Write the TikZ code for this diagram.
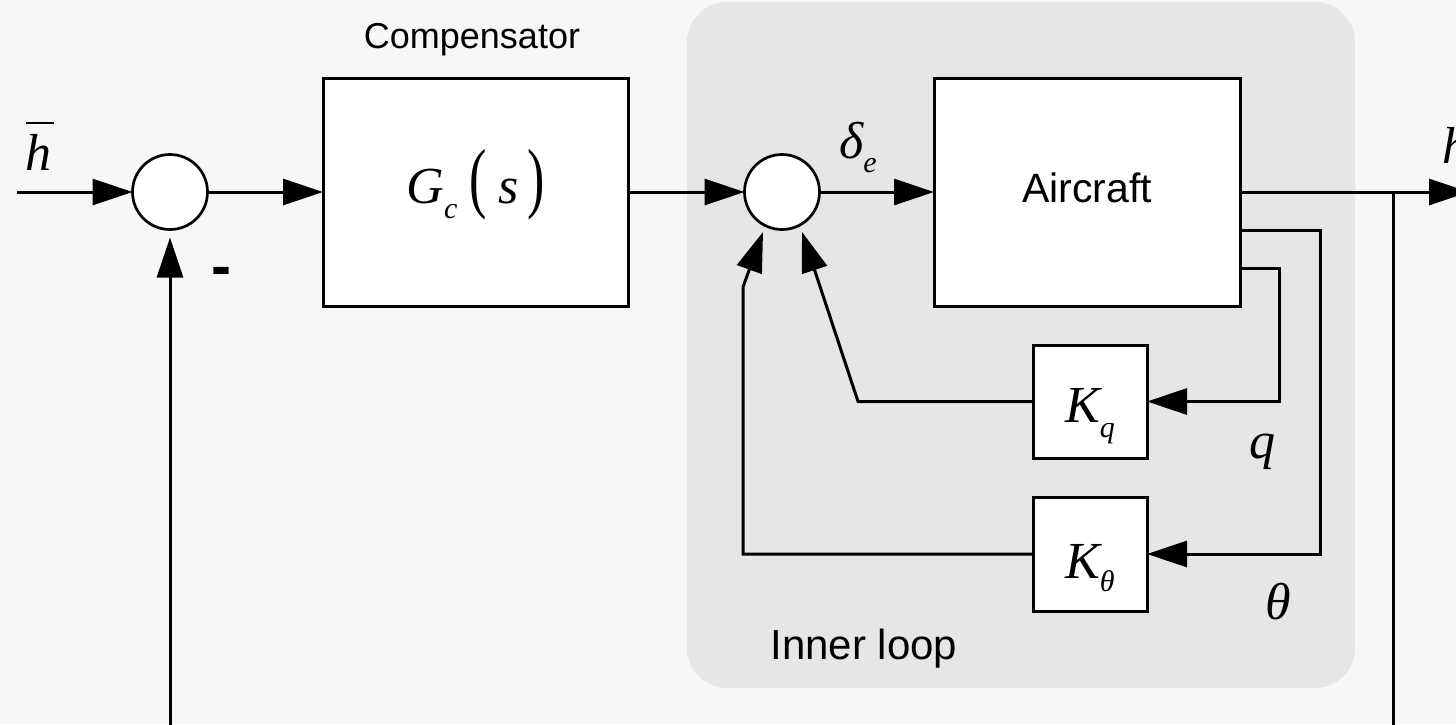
\documentclass[tikz,border=0pt]{standalone}
\usepackage{fontspec}
\usepackage{graphicx}
\setmainfont{Liberation Sans}
\newfontfamily\tms{Liberation Serif}
\usetikzlibrary{arrows.meta}
\definecolor{bgc}{HTML}{F7F7F7}
\definecolor{innerc}{HTML}{E6E6E6}
\newcommand\mi[1]{{\tms\itshape #1}}
\newcommand\lowsub[2]{\raisebox{-#1}{\fontsize{30}{30}\selectfont\tms\itshape #2}}
\begin{document}
\begin{tikzpicture}[x=1pt,y=-1pt,
  line width=3pt,
  blk/.style={draw, fill=white, line width=3pt, inner sep=0pt, outer sep=0pt},
  sumc/.style={draw, fill=white, circle, minimum size=75pt, inner sep=0pt, outer sep=0pt, line width=2.7pt},
  arr/.style={-{Triangle[length=40pt,width=26pt]}},
  lbl/.style={inner sep=0pt, anchor=base},
  sf/.style={font=\fontsize{#1}{#1}\selectfont},
  sf/.default=40,
  mth/.style={font=\tms\itshape\fontsize{52}{52}\selectfont}]
\useasboundingbox (0,0) rectangle (1456,724);
\fill[bgc] (0,0) rectangle (1456,724);
\fill[innerc, rounded corners=40pt] (687,2) rectangle (1355,688);

% blocks
\node[sumc] (s1) at (170,192) {};
\node[blk, mth, minimum width=305pt, minimum height=228pt, text height=22pt, text depth=0pt] (gc) at (475.5,192)
  {\mi{G}\lowsub{15pt}{c}\hspace{12pt}\scalebox{1}[1.5]{\upshape (}\hspace{12pt}\mi{s}\hspace{8pt}\scalebox{1}[1.5]{\upshape )}};
\node[sumc] (s2) at (782,192) {};
\node[blk, sf=41, minimum width=306pt, minimum height=228pt, text height=20pt, text depth=0pt] (ac) at (1087,192) {Aircraft};
\node[blk, mth, minimum width=114pt, minimum height=113pt, text height=41pt, text depth=0pt] (kq) at (1090,401.5) {\mi{K}\lowsub{15pt}{q}};
\node[blk, mth, minimum width=114pt, minimum height=114pt, text height=48pt, text depth=0pt] (kt) at (1090,554) {\mi{K}\lowsub{13pt}{θ}};

% free ends
\coordinate (in) at (17,192);
\coordinate (out) at (1469,192);
\coordinate (br) at (1393,192);
\coordinate (fbR) at (1393,740);
\coordinate (fbL) at (170,740);

% forward path
\draw[arr] (in) -- (s1.west);
\draw[arr] (s1.east) -- (gc.west);
\draw[arr] (gc.east) -- (s2.west);
\draw[arr] (s2.east) -- (ac.west);
\draw[arr] (ac.east) -- (out);

% outer feedback
\draw (br) -- (fbR);
\draw[arr] (fbL) -- ([yshift=-8pt]s1.south);

% inner loops
\draw[arr] ([yshift=-76pt]ac.east) -- ++(39,0) |- (kq.east);
\draw[arr] ([yshift=-38pt]ac.east) -- ++(80,0) |- (kt.east);
\draw[arr] (kq.west) -- (858,401.5) -- ([shift={(20pt,-40pt)}]s2.center);
\draw[arr] (kt.west) -| (743,287) -- ([shift={(-19pt,-40pt)}]s2.center);

% labels
\node[lbl, sf=36] (comp) at (472,48) {Compensator};
\node[lbl, sf=42, anchor=base west] (il) at (769,659) {Inner loop};
\node[lbl, mth] (hbar) at (38,170) {\rlap{\hspace{1pt}\rule[46pt]{28pt}{2.3pt}}h};
\node[lbl, mth, anchor=base west] (hout) at (1441,163) {h};
\node[lbl, mth] (de) at (858,158) {δ\lowsub{14pt}{e}};
\node[lbl, mth] (ql) at (1262,458) {q};
\node[lbl, mth] (tl) at (1278,619) {θ};
\node[lbl, font=\bfseries\fontsize{60}{60}\selectfont] (minus) at (221,286) {-};
\end{tikzpicture}
\end{document}
